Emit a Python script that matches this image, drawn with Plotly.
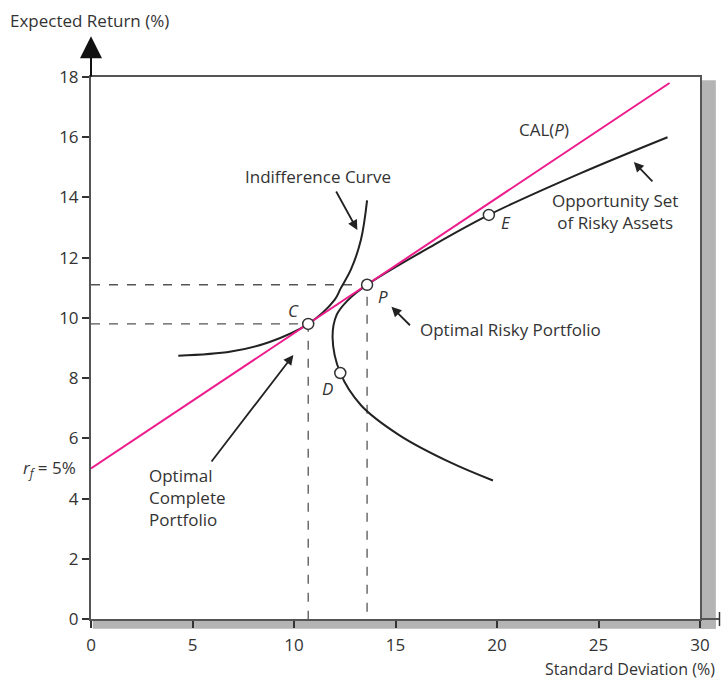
import plotly.graph_objects as go

# risk-free rate and capital allocation line end points (sigma %, return %)
rf = 5.0
cal_sigma = [0, 28.5]
cal_ret = [rf, 17.8]

# efficient frontier / opportunity set of risky assets
opp_sigma = [19.8, 17.7, 15.2, 13.3, 12.28, 11.9, 12.1, 12.6, 13.6, 16.7, 19.6, 24.1, 28.4]
opp_ret = [4.6, 5.2, 6.1, 7.1, 8.17, 9.35, 10.1, 10.55, 11.1, 12.35, 13.42, 14.8, 16.0]

# indifference curve
ind_sigma = [4.3, 6.9, 8.8, 10.7, 12.0, 12.3, 12.8, 13.3, 13.6]
ind_ret = [8.74, 8.88, 9.2, 9.8, 10.6, 10.98, 11.6, 12.6, 13.9]

# labelled portfolios
pt_names = ["C", "P", "D", "E"]
pt_sigma = [10.7, 13.6, 12.28, 19.6]
pt_ret = [9.8, 11.1, 8.17, 13.42]

xticks = [0, 5, 10, 15, 20, 25, 30]
yticks = [0, 2, 4, 6, 8, 10, 12, 14, 16, 18]

FONT = "Open Sans"
TXT = "#333333"
INK = "#222222"
PINK = "#ec1c8c"
FS = 17

fig = go.Figure()

# dashed guides to C and P
for s, r in [(pt_sigma[0], pt_ret[0]), (pt_sigma[1], pt_ret[1])]:
    fig.add_trace(go.Scatter(x=[0, s, s], y=[r, r, 0], mode="lines",
                             line=dict(color="#555555", width=1.3, dash="dash"),
                             hoverinfo="skip", showlegend=False))

fig.add_trace(go.Scatter(x=opp_sigma, y=opp_ret, mode="lines",
                         line=dict(color=INK, width=2, shape="spline", smoothing=1),
                         showlegend=False))
fig.add_trace(go.Scatter(x=ind_sigma, y=ind_ret, mode="lines",
                         line=dict(color=INK, width=2, shape="spline", smoothing=1),
                         showlegend=False))
fig.add_trace(go.Scatter(x=cal_sigma, y=cal_ret, mode="lines",
                         line=dict(color=PINK, width=2), showlegend=False))
fig.add_trace(go.Scatter(x=pt_sigma, y=pt_ret, mode="markers",
                         marker=dict(size=11, color="white", line=dict(color="#333333", width=1.5)),
                         text=pt_names, showlegend=False))

shapes = [
    # drop shadow of the frame
    dict(type="rect", xref="paper", yref="paper", x0=1.0, x1=1.026, y0=-0.018, y1=0.994,
         fillcolor="#b4b4b4", line=dict(width=0), layer="below"),
    dict(type="rect", xref="paper", yref="paper", x0=0.003, x1=1.026, y0=-0.018, y1=0,
         fillcolor="#b4b4b4", line=dict(width=0), layer="below"),
    # x axis extension past 30
    dict(type="line", xref="paper", yref="paper", x0=1, x1=1.032, y0=0, y1=0,
         line=dict(color="#555555", width=2)),
    dict(type="line", xref="paper", yref="paper", x0=1.032, x1=1.032, y0=-0.013, y1=0.013,
         line=dict(color="#333333", width=1.5)),
]

ann = []
def label(x, y, text, xanchor="center", italic=False, align="left"):
    t = f"<i>{text}</i>" if italic else text
    ann.append(dict(x=x, y=y, text=t, showarrow=False, xanchor=xanchor, yanchor="middle",
                    font=dict(family=FONT, size=FS, color=TXT), align=align))

label(9.97, 10.23, "C", italic=True)
label(14.4, 10.7, "P", italic=True)
label(11.64, 7.67, "D", italic=True)
label(20.42, 13.16, "E", italic=True)
label(22.3, 16.25, "CAL(<i>P</i>)")
label(11.2, 14.68, "Indifference Curve")
label(25.8, 13.52, "Opportunity Set<br>of Risky Assets", align="center")
label(16.1, 9.6, "Optimal Risky Portfolio", xanchor="left")
label(2.76, 4.05, "Optimal<br>Complete<br>Portfolio", xanchor="left")

def arrow(x, y, ax, ay):
    ann.append(dict(x=x, y=y, ax=ax, ay=ay, text="", showarrow=True,
                    arrowhead=2, arrowsize=1.1, arrowwidth=1.8, arrowcolor=INK))

arrow(13.12, 12.92, -22, -40)
arrow(26.74, 15.18, 20, 21)
arrow(14.8, 10.37, 20, 20)
arrow(9.97, 8.77, -83, 108)

# y axis extension with arrow head
ann.append(dict(x=0, y=1.075, yref="paper", ax=0, ay=42, text="", showarrow=True,
                arrowhead=2, arrowsize=2.2, arrowwidth=2, arrowcolor="#111111"))

ann.append(dict(xref="paper", x=-0.021, y=rf, text="<i>r<sub>f</sub></i> = 5%", showarrow=False,
                xanchor="right", yanchor="middle", font=dict(family=FONT, size=FS, color=TXT)))
ann.append(dict(xref="paper", yref="paper", x=-0.136, y=1.105, text="Expected Return (%)",
                showarrow=False, xanchor="left", yanchor="middle",
                font=dict(family=FONT, size=FS, color=TXT)))
ann.append(dict(xref="paper", yref="paper", x=1.028, y=-0.092, text="Standard Deviation (%)",
                showarrow=False, xanchor="right", yanchor="middle",
                font=dict(family=FONT, size=16, color=TXT)))

fig.update_layout(
    width=721, height=680,
    margin=dict(l=91, r=21, t=77, b=61),
    plot_bgcolor="white", paper_bgcolor="white",
    shapes=shapes, annotations=ann,
    font=dict(family=FONT, size=FS, color=TXT),
    xaxis=dict(range=[0, 30], tickvals=xticks, showgrid=False, zeroline=False,
               showline=True, linecolor="#555555", linewidth=2, mirror=True,
               ticks="outside", ticklen=7, tickcolor="#333333", tickwidth=1.5,
               ticklabelstandoff=3, tickfont=dict(size=FS, color=TXT)),
    yaxis=dict(range=[0, 18], tickvals=yticks, showgrid=False, zeroline=False,
               showline=True, linecolor="#555555", linewidth=2, mirror=True,
               ticks="outside", ticklen=7, tickcolor="#333333", tickwidth=1.5,
               tickfont=dict(size=FS, color=TXT)),
)

# drop the page's default body margin so the 721x680 figure fills the window
fig.write_html("out.html", config={"displayModeBar": False},
               post_script="document.body.style.margin='0';")
